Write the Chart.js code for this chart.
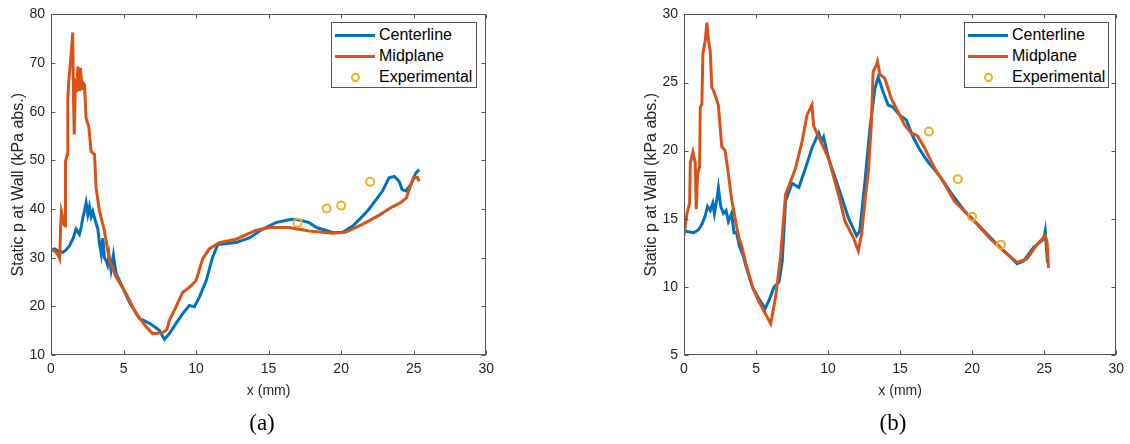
<!DOCTYPE html>
<html><head><meta charset="utf-8">
<script src="https://cdn.jsdelivr.net/npm/chart.js@4.4.1/dist/chart.umd.min.js"></script>
<style>
body{margin:0;background:#fff;}
#page{position:relative;width:1130px;height:444px;overflow:hidden;font-family:"Liberation Sans",Arial,sans-serif;color:#262626;background:#fff}
canvas{position:absolute;top:0}
.legend{position:absolute;top:22px;height:66px;border:1px solid #555;background:#fff;box-sizing:border-box;font-size:16px;color:#000}
.row{position:absolute;left:0;right:0;height:20px}
.row .ln{position:absolute;left:3px;width:40px;top:9px;height:3px}
.row .mk{position:absolute;left:19px;top:6px;width:5px;height:5px;border:2px solid #EDB120;border-radius:50%}
.row .tx{position:absolute;left:47px;top:1px;line-height:18px;white-space:nowrap}
.cap{position:absolute;top:410px;font-family:"Liberation Serif","Times New Roman",serif;font-size:23px;color:#000;transform:translateX(-50%)}
</style></head>
<body>
<div id="page">
  <canvas id="ca" width="500" height="444" style="left:0"></canvas>
  <canvas id="cb" width="497" height="444" style="left:633px"></canvas>
  <div class="legend" style="left:331px;width:146px">
    <div class="row" style="top:2px"><div class="ln" style="background:#0072BD"></div><div class="tx">Centerline</div></div>
    <div class="row" style="top:23px"><div class="ln" style="background:#D95319"></div><div class="tx">Midplane</div></div>
    <div class="row" style="top:44px"><div class="mk"></div><div class="tx">Experimental</div></div>
  </div>
  <div class="legend" style="left:964px;width:145px">
    <div class="row" style="top:2px"><div class="ln" style="background:#0072BD"></div><div class="tx">Centerline</div></div>
    <div class="row" style="top:23px"><div class="ln" style="background:#D95319"></div><div class="tx">Midplane</div></div>
    <div class="row" style="top:44px"><div class="mk"></div><div class="tx">Experimental</div></div>
  </div>
  <div class="cap" style="left:262px">(a)</div>
  <div class="cap" style="left:893px">(b)</div>
</div>
<script>
// ---------- Data: chart (a) ----------
const aCenterX = [0,0.24,0.5,0.81,1.0,1.27,1.5,1.73,1.96,2.1,2.19,2.3,2.42,2.54,2.65,2.77,2.88,3.0,3.23,3.34,3.46,3.57,3.68,3.8,3.9,4.0,4.14,4.3,4.37,4.49,4.83,5.4,6.1,6.8,7.47,7.82,8.16,8.62,9.08,9.54,9.88,10.23,10.7,11.14,11.5,12.75,13.7,14.6,15.5,16.4,16.9,17.8,18.3,19.4,20.1,20.8,21.5,21.9,22.4,22.85,23.3,23.66,24.0,24.2,24.46,24.8,25.15,25.38];
const aCenterY = [31.5,31.8,31.4,31.1,31.5,32.4,33.8,35.9,34.8,36.5,38.2,39.5,41.3,38.9,40.5,38.5,39.5,38.2,35.9,33.0,30.8,34.0,30.0,29.4,28.5,30.5,27.5,30.5,29.0,26.7,24.6,20.9,17.5,16.5,15.1,13.2,14.4,16.5,18.5,20.2,19.9,21.9,25.3,30.1,32.7,33.1,34.1,35.9,37.2,37.8,37.9,37.2,36.2,35.2,35.2,36.5,38.6,39.9,41.9,43.7,46.4,46.7,45.7,44.0,43.7,45.0,47.4,48.1];
const aMidX = [0,0.3,0.5,0.6,0.66,0.72,0.8,0.9,0.98,1.0,1.12,1.16,1.23,1.35,1.5,1.55,1.6,1.69,1.78,1.85,1.96,2.03,2.15,2.19,2.31,2.42,2.6,2.77,3.0,3.11,3.34,3.68,4.03,4.49,5.18,5.87,6.56,7.01,7.5,7.82,8.0,8.16,8.62,9.08,9.54,10.0,10.45,10.9,11.6,12.75,14.1,15.05,16.4,17.8,19.4,20.3,21.5,22.6,23.5,24.1,24.5,24.8,25.0,25.26,25.38];
const aMidY = [31.6,31.3,30.5,29.8,36.0,39.5,38.5,36.8,36.5,49.8,51.2,62.7,66.5,70.4,76.3,63.0,55.3,66.8,64.0,69.3,64.2,69.0,64.7,66.0,65.5,58.6,57.0,51.8,51.2,44.3,39.6,35.5,29.4,26.0,22.6,18.5,15.8,14.4,14.5,14.8,15.3,17.1,19.9,22.9,23.9,25.3,29.7,31.8,33.1,33.8,35.6,36.2,36.2,35.5,35.0,35.2,36.9,38.7,40.4,41.3,42.3,45.0,46.4,46.5,45.7];
const aExpX = [17,19,20,22];
const aExpY = [37.2,40.1,40.7,45.6];

// ---------- Data: chart (b) ----------
const bCenterX = [0,0.67,1.01,1.24,1.47,1.63,1.82,2.0,2.11,2.28,2.39,2.55,2.73,2.92,3.08,3.31,3.47,3.65,3.84,4.11,4.3,4.75,5.21,5.63,5.9,6.25,6.6,6.82,7.05,7.5,7.97,8.43,8.88,9.35,9.57,9.69,10.03,10.72,11.4,11.98,12.2,12.56,12.9,13.25,13.48,13.82,14.17,14.5,14.97,15.43,15.9,16.35,16.92,17.4,17.84,18.53,19.45,20.6,21.74,22.66,23.12,23.58,24.27,24.96,25.07,25.19,25.23];
const bCenterY = [14.1,13.97,14.2,14.6,15.2,15.9,15.6,16.15,15.4,16.4,17.25,15.9,15.4,15.6,14.8,15.4,13.97,14.0,13.0,12.3,11.5,10.0,9.1,8.4,9.0,10.0,10.35,11.9,16.3,17.6,17.3,18.7,20.2,21.3,20.7,21.0,19.45,17.3,15.1,13.75,14.1,17.75,21.6,24.55,25.4,24.3,23.35,23.2,22.6,22.25,21.0,20.1,19.2,18.6,18.0,16.9,15.6,14.35,13.1,12.2,11.7,11.9,12.9,13.5,14.1,12.4,11.8];
const bMidX = [0,0.09,0.21,0.39,0.44,0.62,0.78,0.85,0.94,1.08,1.13,1.24,1.31,1.47,1.59,1.7,1.82,1.93,2.05,2.28,2.39,2.62,2.85,3.08,3.31,3.65,3.84,4.0,4.3,4.75,5.21,5.56,6.02,6.36,6.7,7.05,7.28,7.74,8.2,8.54,8.88,9.0,9.35,10.03,10.72,11.18,11.76,12.1,12.33,12.56,12.8,13.0,13.13,13.36,13.43,13.6,13.94,14.4,14.86,15.3,15.77,16.2,16.7,17.4,18.07,18.76,20.14,21.28,22.43,23.12,23.8,24.5,25.07,25.2,25.3];
const bMidY = [15.1,14.45,15.4,16.15,19.1,19.9,19.1,15.7,18.3,18.8,23.2,23.4,27.1,28.05,29.4,28.05,27.3,24.65,24.4,23.7,23.3,20.3,20.0,18.3,16.4,14.45,13.5,13.0,11.7,10.0,8.9,8.2,7.3,9.25,12.2,16.8,17.4,18.7,20.7,22.6,23.35,21.8,21.0,19.45,16.8,14.8,13.6,12.65,13.9,16.3,18.5,21.9,25.8,26.3,26.55,25.6,25.3,23.8,22.85,21.9,21.3,21.1,20.2,18.7,17.6,16.3,14.84,13.5,12.4,11.8,12.05,13.1,13.75,13.3,11.4];
const bExpX = [17,19,20,22];
const bExpY = [21.4,17.9,15.15,13.1];

// ---------- Axis settings ----------
const xRange = [0, 30], xStep = 5;
const aYRange = [10, 80], aYStep = 10;
const bYRange = [5, 30], bYStep = 5;

const BLUE = '#0072BD', ORANGE = '#D95319', YELLOW = '#EDB120';
const FONT = '"Liberation Sans", Arial, sans-serif';
const AXC = '#262626';

const pts = (xs, ys) => xs.map((x, i) => ({x, y: ys[i]}));

const boxPlugin = {
  id: 'matlabBox',
  afterDraw(chart) {
    const {ctx, chartArea: a, scales: {x, y}} = chart;
    ctx.save();
    ctx.strokeStyle = '#555';
    ctx.lineWidth = 1;
    const L = Math.round(a.left) + 0.5, R = Math.round(a.right) - 0.5;
    const T = Math.round(a.top) + 0.5, B = Math.round(a.bottom) - 0.5;
    ctx.strokeRect(L, T, R - L, B - T);
    ctx.beginPath();
    const tl = 4;
    x.ticks.forEach(t => {
      const px = Math.round(x.getPixelForValue(t.value)) + 0.5;
      ctx.moveTo(px, B); ctx.lineTo(px, B - tl);
      ctx.moveTo(px, T); ctx.lineTo(px, T + tl);
    });
    y.ticks.forEach(t => {
      const py = Math.round(y.getPixelForValue(t.value)) + 0.5;
      ctx.moveTo(L, py); ctx.lineTo(L + tl, py);
      ctx.moveTo(R, py); ctx.lineTo(R - tl, py);
    });
    ctx.stroke();
    ctx.restore();
  }
};

function makeChart(id, cx, cy, mx, my, ex, ey, yRange, yStep, yAxisW, padRight) {
  return new Chart(document.getElementById(id), {
    type: 'scatter',
    data: {
      datasets: [
        {label: 'Centerline', data: pts(cx, cy), showLine: true, borderColor: BLUE, borderWidth: 3, pointRadius: 0, tension: 0, order: 2},
        {label: 'Midplane', data: pts(mx, my), showLine: true, borderColor: ORANGE, borderWidth: 3, pointRadius: 0, tension: 0, order: 1},
        {label: 'Experimental', data: pts(ex, ey), showLine: false, borderColor: YELLOW, backgroundColor: 'rgba(0,0,0,0)', pointRadius: 4, pointBorderWidth: 2, order: 0}
      ]
    },
    options: {
      responsive: false, animation: false,
      layout: {padding: {top: 12, left: 0, right: padRight, bottom: 39}},
      plugins: {legend: {display: false}, tooltip: {enabled: false}},
      scales: {
        x: {
          type: 'linear', min: xRange[0], max: xRange[1],
          ticks: {stepSize: xStep, color: AXC, font: {size: 14, family: FONT}, padding: 6, maxRotation: 0},
          grid: {display: false, drawTicks: false}, border: {display: false},
          title: {display: true, text: 'x (mm)', color: AXC, font: {size: 14, family: FONT}, padding: {top: 0, bottom: 5}},
          afterFit(s) { s.height = 50; }
        },
        y: {
          type: 'linear', min: yRange[0], max: yRange[1],
          ticks: {stepSize: yStep, color: AXC, font: {size: 14, family: FONT}, padding: 6},
          grid: {display: false, drawTicks: false}, border: {display: false},
          title: {display: true, text: 'Static p at Wall (kPa abs.)', color: AXC, font: {size: 16, family: FONT}, padding: {top: 9, bottom: 0}},
          afterFit(s) { s.width = yAxisW; }
        }
      }
    },
    plugins: [boxPlugin]
  });
}

makeChart('ca', aCenterX, aCenterY, aMidX, aMidY, aExpX, aExpY, aYRange, aYStep, 51, 13);
makeChart('cb', bCenterX, bCenterY, bMidX, bMidY, bExpX, bExpY, bYRange, bYStep, 51, 11);
</script>
</body></html>
